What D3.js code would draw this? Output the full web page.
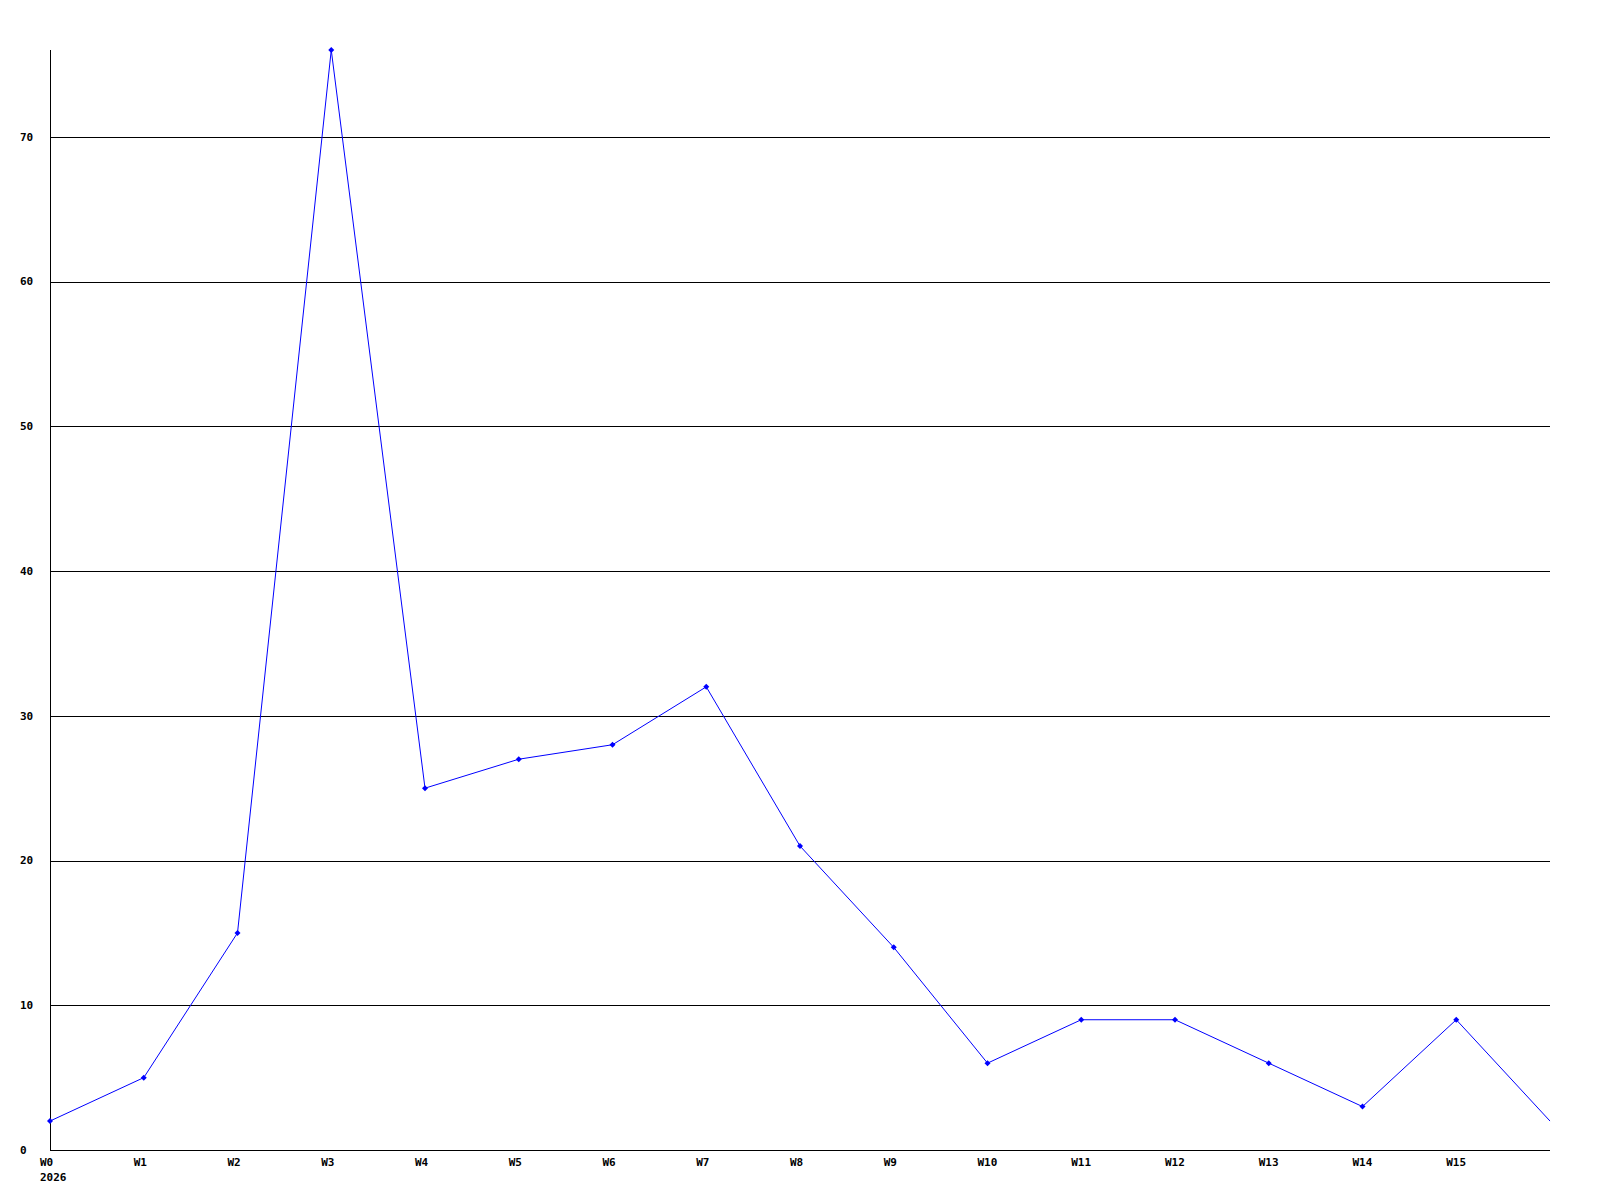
<!DOCTYPE html>
<html>
<head>
<meta charset="utf-8">
<script src="https://cdn.jsdelivr.net/npm/d3@7"></script>
<style>
  body { margin: 0; background: #fff; }
  text { font-family: "DejaVu Sans Mono", monospace; font-weight: bold; font-size: 11px; fill: #000; }
</style>
</head>
<body>
<div id="chartdiv"></div>
<script>
// weeks shown on the x axis
var weeks = ["W0","W1","W2","W3","W4","W5","W6","W7","W8","W9","W10","W11","W12","W13","W14","W15","W16"];
var values = [2, 5, 15, 76, 25, 27, 28, 32, 21, 14, 6, 9, 9, 6, 3, 9, 2];
var tickLabels = ["W0","W1","W2","W3","W4","W5","W6","W7","W8","W9","W10","W11","W12","W13","W14","W15"];
var yTicks = [0, 10, 20, 30, 40, 50, 60, 70];
var yearLabel = "2026";

// plot area (not named "top": that clashes with window.top)
var plotLeft = 50, plotRight = 1550, plotTop = 50, plotBottom = 1150;

var svg = d3.select("#chartdiv").append("svg")
    .attr("width", 1600)
    .attr("height", 1200);

var x = d3.scalePoint()
    .domain(weeks)
    .range([plotLeft, plotRight]);

var y = d3.scaleLinear()
    .domain([0, 76])
    .range([plotBottom, plotTop]);

// horizontal grid lines
svg.selectAll()
    .data(yTicks).enter()
    .append("line")
    .attr("x1", plotLeft)
    .attr("x2", plotRight)
    .attr("y1", d => Math.round(y(d)) + 0.5)
    .attr("y2", d => Math.round(y(d)) + 0.5)
    .style("stroke", "#000")
    .style("shape-rendering", "crispEdges");

// y axis line
svg.append("line")
    .attr("x1", plotLeft + 0.5)
    .attr("x2", plotLeft + 0.5)
    .attr("y1", plotTop)
    .attr("y2", plotBottom)
    .style("stroke", "#000")
    .style("shape-rendering", "crispEdges");

// y labels
svg.selectAll()
    .data(yTicks).enter()
    .append("text")
    .attr("x", 20)
    .attr("y", d => y(d))
    .attr("dy", "0.35em")
    .text(d => d);

// x labels
svg.selectAll()
    .data(tickLabels).enter()
    .append("text")
    .attr("x", d => x(d) - 10)
    .attr("y", plotBottom + 16)
    .text(d => d);

svg.append("text")
    .attr("x", x(weeks[0]) - 10)
    .attr("y", plotBottom + 31)
    .text(yearLabel);

// the line
var line = d3.line()
    .x((d, i) => x(weeks[i]))
    .y(d => y(d));

svg.append("path")
    .datum(values)
    .attr("d", line)
    .style("fill", "none")
    .style("stroke", "#0000ff")
    .style("stroke-width", 1);

// markers
svg.selectAll()
    .data(values.slice(0, values.length - 1)).enter()
    .append("path")
    .attr("transform", (d, i) => "translate(" + x(weeks[i]) + "," + y(d) + ")")
    .attr("d", "M-3,0L0,-3L3,0L0,3Z")
    .style("fill", "#0000ff")
    .style("stroke", "none");
</script>
</body>
</html>
